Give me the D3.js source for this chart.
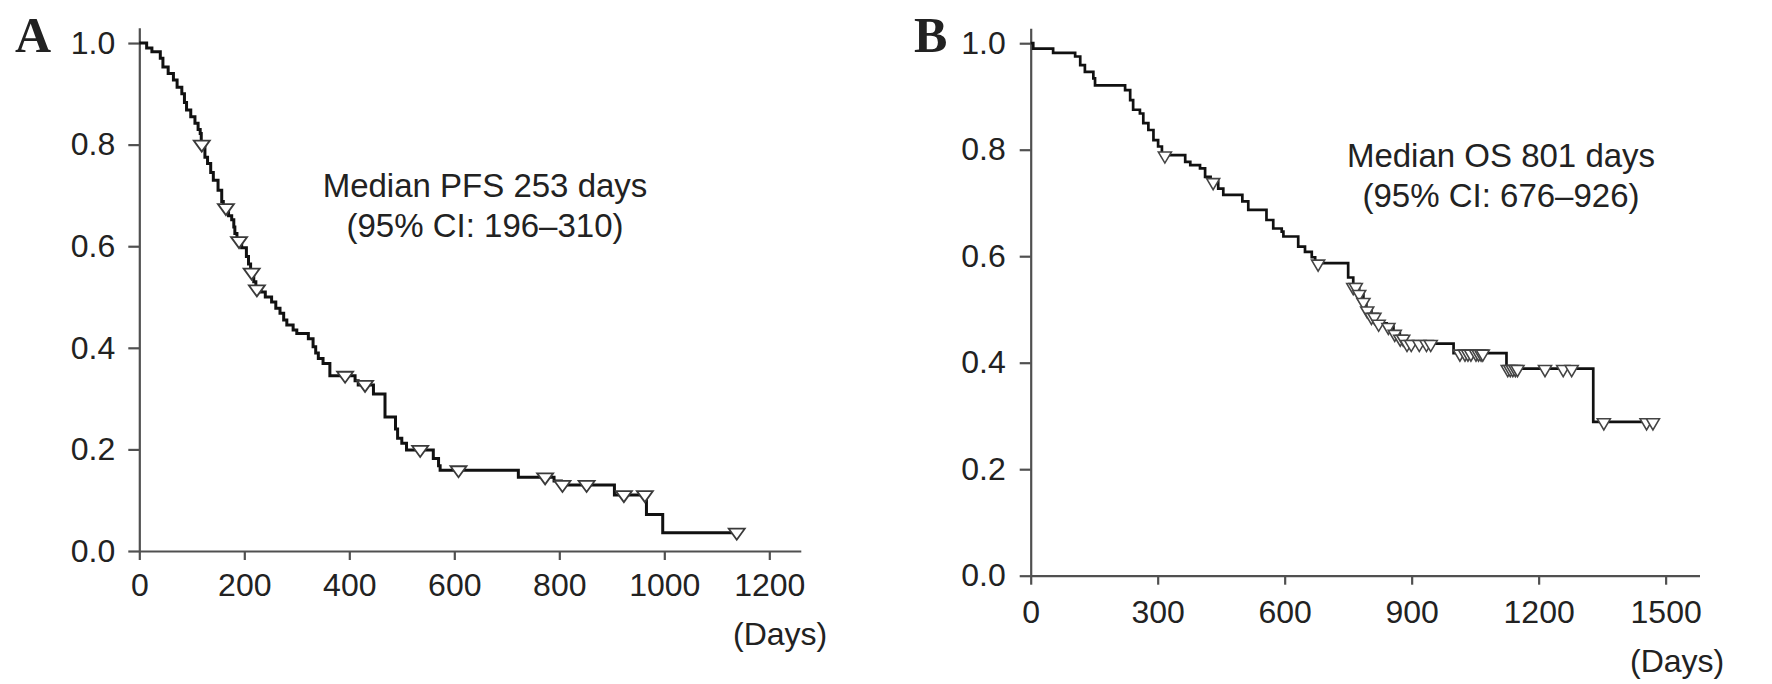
<!DOCTYPE html>
<html>
<head>
<meta charset="utf-8">
<script src="https://cdn.jsdelivr.net/npm/d3@7/dist/d3.min.js"></script>
<style>
  body { margin: 0; background: #fff; }
  text { font-family: Arial, 'Liberation Sans', sans-serif; fill: #222; }
</style>
</head>
<body>
<script>
// Panel A - progression free survival (step days and survival after each step)
var pfsDays = [0, 14, 24, 40, 45, 55, 65, 72, 81, 86, 90, 98, 106, 112, 116, 118, 125, 130, 136, 141,
	150, 157, 160, 170, 176, 180, 182, 186, 195, 204, 208, 212, 218, 222, 232, 240, 252, 260, 268, 275,
	281, 293, 300, 322, 331, 336, 341, 350, 363, 411, 417, 446, 468, 488, 492, 500, 509, 560, 570, 573,
	722, 790, 804, 905, 966, 997];
var pfsSurv = [1.0, 0.99, 0.983, 0.97, 0.953, 0.94, 0.927, 0.913, 0.9, 0.883, 0.868, 0.855, 0.842, 0.83, 0.822, 0.8, 0.775, 0.763, 0.745, 0.73,
	0.71, 0.688, 0.675, 0.66, 0.652, 0.638, 0.625, 0.61, 0.597, 0.58, 0.565, 0.548, 0.53, 0.515, 0.51, 0.5, 0.49, 0.478, 0.468, 0.455,
	0.445, 0.435, 0.428, 0.418, 0.402, 0.39, 0.379, 0.369, 0.345, 0.335, 0.327, 0.309, 0.264, 0.24, 0.222, 0.212, 0.199, 0.182, 0.168, 0.159,
	0.145, 0.138, 0.13, 0.11, 0.072, 0.036];
var pfsCensor = [119, 165, 190, 214, 224, 392, 430, 535, 608, 773, 806, 852, 923, 963, 1138];
var pfsEnd = 1138;
var pfsXTicks = [0, 200, 400, 600, 800, 1000, 1200];

// Panel B - overall survival
var osDays = [0, 6, 53, 105, 117, 128, 148, 152, 223, 235, 242, 258, 266, 278, 290, 301, 310, 365, 377, 400,
	412, 425, 443, 455, 500, 514, 557, 573, 593, 597, 632, 648, 664, 672, 750, 762, 776, 786, 793, 805,
	817, 841, 857, 872, 885, 999, 1124, 1329];
var osSurv = [1.0, 0.99, 0.982, 0.975, 0.959, 0.946, 0.934, 0.921, 0.912, 0.893, 0.875, 0.868, 0.85, 0.837, 0.818, 0.806, 0.79, 0.777, 0.771, 0.765,
	0.749, 0.74, 0.727, 0.715, 0.703, 0.687, 0.668, 0.652, 0.646, 0.637, 0.618, 0.608, 0.598, 0.587, 0.56, 0.543, 0.53, 0.515, 0.499, 0.487,
	0.474, 0.468, 0.455, 0.446, 0.436, 0.418, 0.389, 0.289];
var osCensor = [317, 431, 679, 762, 768, 776, 786, 795, 805, 812, 822, 845, 860, 873, 880, 889, 899, 918, 935, 945,
	1014, 1026, 1033, 1040, 1052, 1058, 1064, 1068, 1127, 1133, 1139, 1145, 1150, 1215, 1258, 1278, 1354, 1455, 1470];
var osEnd = 1475;
var osXTicks = [0, 300, 600, 900, 1200, 1500];

var yTicks = [0, 0.2, 0.4, 0.6, 0.8, 1.0];

var svg = d3.select('body').append('svg').attr('width', 1772).attr('height', 684);

function survAt(days, surv, t) {
	var s = surv[0];
	for (var i = 0; i < days.length; i++) {
		if (days[i] <= t) s = surv[i];
	}
	return s;
}

function drawPanel(p) {
	var x = d3.scaleLinear().domain([0, p.xMax]).range([p.left, p.right]);
	var y = d3.scaleLinear().domain([0, p.yMax]).range([p.bottom, p.top]);

	// axes
	var xAxis = svg.append('g')
		.attr('transform', 'translate(0,' + p.bottom + ')')
		.call(d3.axisBottom(x).tickValues(p.xTicks).tickFormat(d3.format('d')).tickSize(9).tickSizeOuter(0).tickPadding(p.xPad));
	var yAxis = svg.append('g')
		.attr('transform', 'translate(' + p.left + ',0)')
		.call(d3.axisLeft(y).tickValues(yTicks).tickFormat(d3.format('.1f')).tickSize(11).tickSizeOuter(0).tickPadding(p.yPad));
	[xAxis, yAxis].forEach(function(a) {
		a.selectAll('path, line').attr('stroke', '#505050').attr('stroke-width', 2.2);
		a.selectAll('text').attr('font-size', '32px').attr('fill', '#222')
			.style('font-family', "Arial, 'Liberation Sans', sans-serif");
	});

	// survival curve
	var pts = p.days.map(function(d, i) { return [d, p.surv[i]]; });
	pts.push([p.end, p.surv[p.surv.length - 1]]);
	var line = d3.line()
		.x(function(d) { return x(d[0]); })
		.y(function(d) { return y(d[1]); })
		.curve(d3.curveStepAfter);
	svg.append('path')
		.datum(pts)
		.attr('d', line)
		.attr('fill', 'none')
		.attr('stroke', '#111')
		.attr('stroke-width', p.lineW);

	// censor marks
	svg.selectAll(null)
		.data(p.censor)
		.enter()
		.append('path')
		.attr('d', function(t) {
			var cx = x(t), cy = y(survAt(p.days, p.surv, t));
			return 'M' + (cx - p.tw) + ',' + (cy - p.tUp) + 'L' + (cx + p.tw) + ',' + (cy - p.tUp) +
				'L' + cx + ',' + (cy + p.tDown) + 'Z';
		})
		.attr('fill', '#fff')
		.attr('stroke', p.tStroke)
		.attr('stroke-width', p.tStrokeW);

	// panel letter
	svg.append('text')
		.attr('x', p.letterX)
		.attr('y', 52)
		.attr('font-size', '50px')
		.attr('font-weight', 'bold')
		.style('font-family', "'Liberation Serif', 'Times New Roman', serif")
		.text(p.letter);

	// median annotation
	svg.append('text').attr('x', p.noteX).attr('y', p.noteY).attr('text-anchor', 'middle')
		.attr('font-size', '33px').text(p.note1);
	svg.append('text').attr('x', p.noteX).attr('y', p.noteY + 40).attr('text-anchor', 'middle')
		.attr('font-size', '33px').text(p.note2);

	// unit label
	svg.append('text').attr('x', p.daysX).attr('y', p.daysY)
		.attr('font-size', '32px').text('(Days)');
}

drawPanel({
	days: pfsDays, surv: pfsSurv, censor: pfsCensor, end: pfsEnd, xTicks: pfsXTicks,
	xMax: 1260, yMax: 1.03, left: 139.3, right: 800.8, bottom: 551, top: 27.8,
	xPad: 13, yPad: 13, lineW: 3, tw: 8, tUp: 4, tDown: 7, tStroke: '#3a3a3a', tStrokeW: 1.8,
	letter: 'A', letterX: 15, noteX: 485, noteY: 197,
	note1: 'Median PFS 253 days', note2: '(95% CI: 196\u2013310)',
	daysX: 733, daysY: 645
});

drawPanel({
	days: osDays, surv: osSurv, censor: osCensor, end: osEnd, xTicks: osXTicks,
	xMax: 1580, yMax: 1.028, left: 1030.7, right: 1699.5, bottom: 575.7, top: 28.3,
	xPad: 16, yPad: 14, lineW: 2.7, tw: 6.5, tUp: 3, tDown: 8, tStroke: '#444', tStrokeW: 1.6,
	letter: 'B', letterX: 914, noteX: 1501, noteY: 167,
	note1: 'Median OS 801 days', note2: '(95% CI: 676\u2013926)',
	daysX: 1630, daysY: 672
});
</script>
</body>
</html>
